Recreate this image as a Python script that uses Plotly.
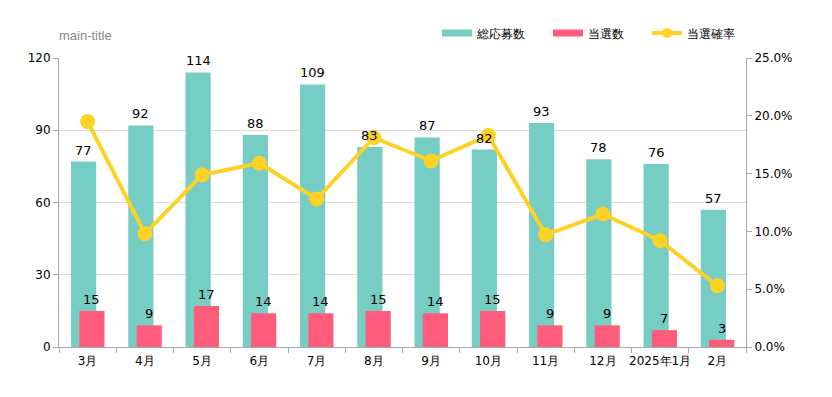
import plotly.graph_objects as go

months = ["3月", "4月", "5月", "6月", "7月", "8月", "9月", "10月", "11月", "12月", "2025年1月", "2月"]
applicants = [77, 92, 114, 88, 109, 83, 87, 82, 93, 78, 76, 57]
winners = [15, 9, 17, 14, 14, 15, 14, 15, 9, 9, 7, 3]
win_rate = [19.5, 9.8, 14.9, 15.9, 12.8, 18.1, 16.1, 18.3, 9.7, 11.5, 9.2, 5.3]
rate_ticks = [0, 5, 10, 15, 20, 25]
rate_tick_labels = ["0.0%", "5.0%", "10.0%", "15.0%", "20.0%", "25.0%"]

TEAL = "rgb(118,205,196)"
PINK = "rgb(255,92,124)"
YELLOW = "rgb(253,210,37)"
FONT = "DejaVu Sans"

W, H = 824, 389          # page body has an 8px margin
L, R, T, B = 51, 86, 50, 50
BAR_W = 0.44
TEAL_OFF = -0.29
PINK_OFF = -0.145

idx = list(range(len(months)))

fig = go.Figure()
fig.add_trace(go.Bar(
    x=months, y=applicants, name="総応募数", showlegend=False,
    marker=dict(color=TEAL, line=dict(width=0)),
    width=BAR_W, offset=TEAL_OFF,
))
fig.add_trace(go.Bar(
    x=months, y=winners, name="当選数", showlegend=False,
    marker=dict(color=PINK, line=dict(width=0)),
    width=BAR_W, offset=PINK_OFF,
))
fig.add_trace(go.Scatter(
    x=months, y=win_rate, name="当選確率", yaxis="y2", showlegend=False,
    mode="lines+markers",
    line=dict(color=YELLOW, width=4),
    marker=dict(color=YELLOW, size=15),
    cliponaxis=False,
))
# hidden numeric axis companion for label placement
fig.add_trace(go.Scatter(x=[-0.5, 11.5], y=[0, 0], xaxis="x2", mode="none",
                         showlegend=False, hoverinfo="skip"))
# legend entries
fig.add_trace(go.Scatter(x=[None], y=[None], name="総応募数", mode="lines",
                         line=dict(color=TEAL, width=7), legend="legend"))
fig.add_trace(go.Scatter(x=[None], y=[None], name="当選数", mode="lines",
                         line=dict(color=PINK, width=7), legend="legend2"))
fig.add_trace(go.Scatter(x=[None], y=[None], name="当選確率", mode="lines+markers",
                         line=dict(color=YELLOW, width=4),
                         marker=dict(color=YELLOW, size=10), legend="legend3"))

labels = []
for vals, off in ((applicants, TEAL_OFF), (winners, PINK_OFF)):
    for i, v in zip(idx, vals):
        labels.append(dict(x=i + off + BAR_W / 2, y=v, xref="x2", yref="y",
                           text=str(v), showarrow=False, xanchor="center",
                           yanchor="bottom", yshift=2,
                           font=dict(family=FONT, size=13, color="#000")))

legend_common = dict(orientation="h", xref="container", yref="container",
                     xanchor="left", y=1 - 25 / H, yanchor="middle",
                     font=dict(family=FONT, size=12, color="#000"),
                     itemwidth=30, bgcolor="rgba(0,0,0,0)")

fig.update_layout(
    width=W, height=H,
    margin=dict(l=L, r=R, t=T, b=B, autoexpand=False),
    barmode="overlay",
    plot_bgcolor="white", paper_bgcolor="white",
    font=dict(family=FONT, size=12, color="#000"),
    showlegend=True,
    legend=dict(legend_common, x=429 / W),
    legend2=dict(legend_common, x=540 / W),
    legend3=dict(legend_common, x=639 / W),
    xaxis=dict(type="category", showline=True, linecolor="#aaa", linewidth=1,
               ticks="outside", tickson="boundaries", tickcolor="#aaa", ticklen=5,
               tickangle=0, automargin=False, range=[-0.5, 11.5],
               ticklabelstandoff=3,
               showgrid=False, tickfont=dict(family=FONT, size=12)),
    xaxis2=dict(overlaying="x", range=[-0.5, 11.5], visible=False),
    yaxis=dict(range=[0, 120], tickvals=[0, 30, 60, 90, 120], showline=True,
               linecolor="#aaa", ticks="outside", tickcolor="#aaa", ticklen=5,
               automargin=False,
               gridcolor="#ddd", zeroline=False, tickfont=dict(family=FONT, size=12)),
    yaxis2=dict(range=[0, 25], tickvals=rate_ticks, ticktext=rate_tick_labels,
                overlaying="y", side="right", showline=True, automargin=False,
                linecolor="#aaa", ticks="outside", tickcolor="#aaa", ticklen=5,
                showgrid=False, zeroline=False, tickfont=dict(family=FONT, size=12)),
    annotations=labels + [dict(text="main-title", xref="paper", yref="paper",
                               x=0, xanchor="left", xshift=-2, y=1 + 22 / (H - T - B),
                               yanchor="middle", showarrow=False,
                               font=dict(family="Liberation Sans", size=13, color="#888"))],
)

fig.write_html("out.html")
